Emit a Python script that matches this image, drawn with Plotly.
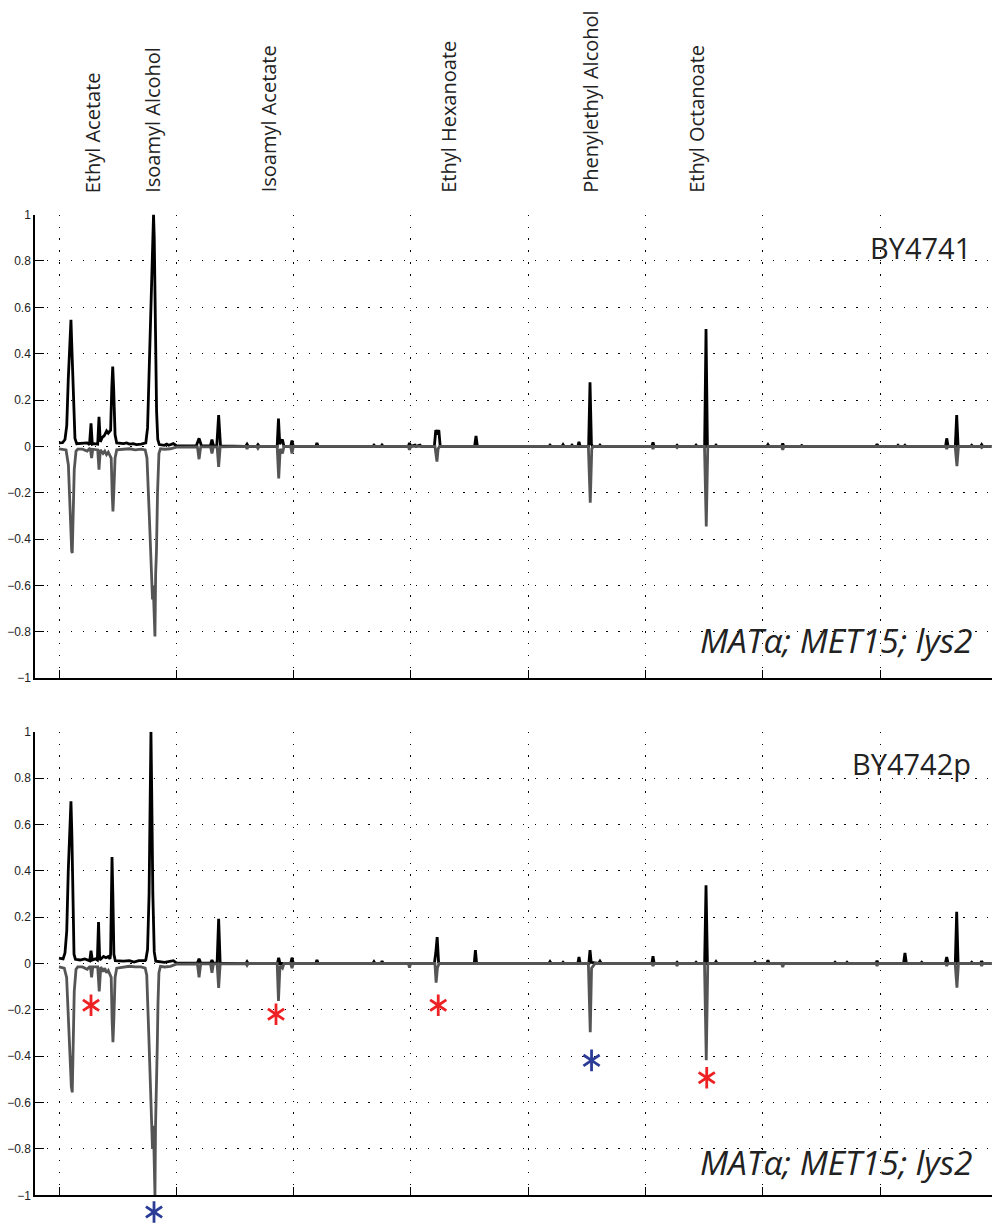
import plotly.graph_objects as go

# Retention time in grid-tick units (ticks at 0..8), normalised intensity
TOP_BLACK = [
    (0.000, 0.015), (0.030, 0.016), (0.051, 0.030), (0.066, 0.090), (0.079, 0.290),
    (0.097, 0.520), (0.102, 0.546), (0.108, 0.450), (0.122, 0.200), (0.136, 0.035),
    (0.151, 0.012), (0.200, 0.012), (0.240, 0.015), (0.260, 0.008), (0.273, 0.100),
    (0.284, 0.010), (0.300, 0.012), (0.330, 0.010), (0.341, 0.128), (0.352, 0.020),
    (0.370, 0.040), (0.384, 0.045), (0.395, 0.060), (0.406, 0.067), (0.420, 0.057),
    (0.435, 0.070), (0.440, 0.070), (0.450, 0.250), (0.458, 0.345), (0.466, 0.250),
    (0.478, 0.050), (0.492, 0.015), (0.550, 0.012), (0.577, 0.015), (0.600, 0.010),
    (0.632, 0.012), (0.660, 0.008), (0.700, 0.010), (0.725, 0.012), (0.740, 0.015),
    (0.755, 0.080), (0.770, 0.350), (0.790, 0.800), (0.800, 0.970), (0.806, 1.000),
    (0.812, 0.900), (0.822, 0.550), (0.832, 0.150), (0.842, 0.030), (0.855, 0.008),
    (0.900, 0.005), (0.918, 0.010), (0.935, 0.005), (0.975, 0.012), (1.000, 0.003),
    (1.170, 0.002), (1.194, 0.035), (1.215, 0.002), (1.290, 0.002), (1.304, 0.030),
    (1.318, 0.002), (1.345, 0.002), (1.361, 0.135), (1.377, 0.002), (1.590, 0.000),
    (1.603, 0.010), (1.615, 0.000), (1.685, 0.000), (1.696, 0.008), (1.708, 0.000),
    (1.860, 0.000), (1.871, 0.120), (1.882, 0.010), (1.905, 0.030), (1.918, 0.000),
    (1.975, 0.000), (1.986, 0.025), (1.998, 0.000), (2.190, 0.000), (2.199, 0.015),
    (2.210, 0.000), (2.675, 0.000), (2.685, 0.006), (2.695, 0.000), (2.745, 0.000),
    (2.754, 0.006), (2.765, 0.000), (2.978, 0.000), (2.988, 0.015), (2.998, 0.000),
    (3.035, 0.006), (3.045, 0.000), (3.078, 0.006), (3.088, 0.000), (3.200, 0.000),
    (3.212, 0.070), (3.225, 0.060), (3.238, 0.070), (3.250, 0.000), (3.543, 0.000),
    (3.555, 0.045), (3.567, 0.000), (4.176, 0.000), (4.186, 0.006), (4.196, 0.000),
    (4.287, 0.000), (4.297, 0.008), (4.307, 0.000), (4.363, 0.000), (4.373, 0.006),
    (4.383, 0.000), (4.423, 0.000), (4.433, 0.020), (4.443, 0.000), (4.515, 0.000),
    (4.527, 0.277), (4.539, 0.010), (4.550, 0.000), (4.602, 0.000), (4.612, 0.006),
    (4.622, 0.000), (5.054, 0.000), (5.064, 0.017), (5.074, 0.000), (5.259, 0.000),
    (5.269, 0.005), (5.279, 0.000), (5.421, 0.000), (5.431, 0.006), (5.441, 0.000),
    (5.504, 0.000), (5.516, 0.506), (5.528, 0.000), (5.591, 0.000), (5.601, 0.006),
    (5.611, 0.000), (6.034, 0.000), (6.044, 0.008), (6.054, 0.000), (6.160, 0.000),
    (6.170, 0.012), (6.180, 0.000), (6.322, 0.000), (6.332, 0.004), (6.342, 0.000),
    (6.964, 0.000), (6.974, 0.010), (6.984, 0.000), (7.143, 0.000), (7.153, 0.005),
    (7.163, 0.000), (7.202, 0.000), (7.212, 0.005), (7.222, 0.000), (7.558, 0.000),
    (7.568, 0.035), (7.580, 0.000), (7.641, 0.000), (7.653, 0.135), (7.665, 0.000),
    (7.771, 0.000), (7.781, 0.005), (7.791, 0.000), (7.856, 0.000), (7.866, 0.008),
    (7.876, 0.000), (7.950, 0.000),
]

TOP_GRAY = [
    (0.000, -0.010), (0.060, -0.015), (0.080, -0.080), (0.095, -0.300), (0.108, -0.450),
    (0.113, -0.460), (0.119, -0.350), (0.130, -0.100), (0.145, -0.020), (0.160, -0.012),
    (0.200, -0.012), (0.240, -0.020), (0.260, -0.010), (0.268, -0.012), (0.278, -0.050),
    (0.288, -0.012), (0.330, -0.015), (0.341, -0.100), (0.352, -0.015), (0.375, -0.030),
    (0.390, -0.020), (0.405, -0.035), (0.420, -0.025), (0.435, -0.040), (0.445, -0.050),
    (0.453, -0.200), (0.460, -0.280), (0.467, -0.200), (0.478, -0.050), (0.492, -0.015),
    (0.550, -0.012), (0.600, -0.010), (0.650, -0.015), (0.700, -0.012), (0.735, -0.015),
    (0.750, -0.050), (0.770, -0.300), (0.790, -0.560), (0.797, -0.660), (0.803, -0.600),
    (0.812, -0.750), (0.818, -0.820), (0.824, -0.550), (0.831, -0.450), (0.840, -0.200),
    (0.852, -0.030), (0.865, -0.010), (0.900, -0.012), (0.950, -0.010), (1.000, -0.003),
    (1.180, -0.002), (1.194, -0.055), (1.208, -0.002), (1.292, -0.002), (1.304, -0.030),
    (1.316, -0.002), (1.348, -0.002), (1.361, -0.088), (1.374, -0.002), (1.593, 0.000),
    (1.603, -0.010), (1.613, 0.000), (1.686, 0.000), (1.696, -0.008), (1.706, 0.000),
    (1.860, 0.000), (1.873, -0.138), (1.886, -0.010), (1.905, -0.030), (1.918, 0.000),
    (1.975, 0.000), (1.986, -0.030), (1.998, 0.000), (2.978, 0.000), (2.988, -0.015),
    (2.998, 0.000), (3.205, 0.000), (3.214, -0.030), (3.222, -0.065), (3.232, -0.010),
    (3.245, 0.000), (4.513, 0.000), (4.529, -0.243), (4.542, -0.010), (4.556, 0.000),
    (5.054, 0.000), (5.064, -0.010), (5.074, 0.000), (5.259, 0.000), (5.269, -0.005),
    (5.279, 0.000), (5.503, 0.000), (5.518, -0.345), (5.531, 0.000), (6.160, 0.000),
    (6.170, -0.015), (6.180, 0.000), (7.558, 0.000), (7.568, -0.010), (7.578, 0.000),
    (7.640, 0.000), (7.655, -0.085), (7.668, 0.000), (7.856, 0.000), (7.866, -0.005),
    (7.876, 0.000), (7.950, 0.000),
]

BOT_BLACK = [
    (0.000, 0.023), (0.035, 0.020), (0.051, 0.045), (0.066, 0.140), (0.079, 0.400),
    (0.098, 0.680), (0.102, 0.700), (0.110, 0.550), (0.117, 0.300), (0.128, 0.040),
    (0.140, 0.018), (0.180, 0.015), (0.220, 0.020), (0.250, 0.012), (0.262, 0.012),
    (0.273, 0.055), (0.284, 0.015), (0.310, 0.020), (0.327, 0.015), (0.337, 0.179),
    (0.347, 0.015), (0.380, 0.030), (0.400, 0.025), (0.420, 0.030), (0.435, 0.020),
    (0.440, 0.040), (0.445, 0.300), (0.452, 0.459), (0.459, 0.300), (0.468, 0.040),
    (0.480, 0.012), (0.550, 0.010), (0.600, 0.012), (0.640, 0.006), (0.680, 0.012),
    (0.720, 0.010), (0.735, 0.012), (0.740, 0.015), (0.755, 0.060), (0.768, 0.300),
    (0.778, 0.750), (0.784, 1.000), (0.790, 0.750), (0.800, 0.300), (0.812, 0.050),
    (0.825, 0.010), (0.900, 0.005), (0.950, 0.010), (0.975, 0.012), (1.000, 0.003),
    (1.180, 0.002), (1.194, 0.020), (1.208, 0.002), (1.292, 0.002), (1.304, 0.015),
    (1.316, 0.002), (1.348, 0.002), (1.361, 0.193), (1.374, 0.002), (1.593, 0.000),
    (1.603, 0.008), (1.613, 0.000), (1.862, 0.000), (1.873, 0.025), (1.884, 0.000),
    (1.975, 0.000), (1.986, 0.025), (1.998, 0.000), (2.190, 0.000), (2.199, 0.015),
    (2.210, 0.000), (2.675, 0.000), (2.685, 0.008), (2.695, 0.000), (2.745, 0.000),
    (2.754, 0.010), (2.765, 0.000), (3.200, 0.000), (3.212, 0.045), (3.224, 0.114),
    (3.236, 0.005), (3.248, 0.000), (3.540, 0.000), (3.550, 0.058), (3.560, 0.000),
    (4.176, 0.000), (4.186, 0.008), (4.196, 0.000), (4.287, 0.000), (4.297, 0.005),
    (4.307, 0.000), (4.423, 0.000), (4.433, 0.028), (4.443, 0.000), (4.517, 0.000),
    (4.527, 0.058), (4.537, 0.005), (4.600, 0.000), (4.612, 0.010), (4.624, 0.000),
    (5.054, 0.000), (5.064, 0.031), (5.074, 0.000), (5.259, 0.000), (5.269, 0.005),
    (5.279, 0.000), (5.421, 0.000), (5.431, 0.005), (5.441, 0.000), (5.504, 0.000),
    (5.516, 0.337), (5.528, 0.000), (5.591, 0.000), (5.601, 0.008), (5.611, 0.000),
    (5.924, 0.000), (5.934, 0.005), (5.944, 0.000), (6.034, 0.000), (6.044, 0.014),
    (6.054, 0.000), (6.606, 0.000), (6.616, 0.005), (6.626, 0.000), (6.708, 0.000),
    (6.718, 0.005), (6.728, 0.000), (6.964, 0.000), (6.974, 0.012), (6.984, 0.000),
    (7.200, 0.000), (7.212, 0.045), (7.224, 0.000), (7.345, 0.000), (7.355, 0.005),
    (7.365, 0.000), (7.556, 0.000), (7.568, 0.028), (7.580, 0.000), (7.641, 0.000),
    (7.653, 0.223), (7.665, 0.000), (7.771, 0.000), (7.781, 0.005), (7.791, 0.000),
    (7.856, 0.000), (7.866, 0.010), (7.876, 0.000), (7.950, 0.000),
]

BOT_GRAY = [
    (0.000, -0.015), (0.045, -0.020), (0.065, -0.060), (0.085, -0.300), (0.105, -0.530),
    (0.113, -0.556), (0.119, -0.400), (0.130, -0.120), (0.145, -0.025), (0.160, -0.015),
    (0.200, -0.015), (0.240, -0.025), (0.260, -0.015), (0.268, -0.015), (0.278, -0.060),
    (0.288, -0.015), (0.330, -0.015), (0.343, -0.120), (0.356, -0.015), (0.375, -0.035),
    (0.390, -0.020), (0.405, -0.040), (0.420, -0.030), (0.435, -0.045), (0.445, -0.060),
    (0.453, -0.250), (0.460, -0.340), (0.467, -0.250), (0.478, -0.060), (0.492, -0.020),
    (0.550, -0.015), (0.600, -0.012), (0.650, -0.015), (0.700, -0.015), (0.735, -0.020),
    (0.748, -0.050), (0.765, -0.300), (0.785, -0.680), (0.797, -0.800), (0.805, -0.700),
    (0.812, -0.880), (0.818, -1.000), (0.823, -0.700), (0.831, -0.546), (0.838, -0.350),
    (0.844, -0.170), (0.852, -0.040), (0.865, -0.012), (0.900, -0.015), (0.950, -0.012),
    (1.000, -0.003), (1.180, -0.002), (1.194, -0.060), (1.208, -0.002), (1.292, -0.002),
    (1.304, -0.040), (1.316, -0.002), (1.348, -0.002), (1.361, -0.105), (1.374, -0.002),
    (1.593, 0.000), (1.603, -0.008), (1.613, 0.000), (1.860, 0.000), (1.871, -0.162),
    (1.884, -0.010), (1.905, -0.020), (1.918, 0.000), (1.975, 0.000), (1.986, -0.020),
    (1.998, 0.000), (2.978, 0.000), (2.988, -0.018), (2.998, 0.000), (3.205, 0.000),
    (3.215, -0.083), (3.226, -0.020), (3.240, 0.000), (4.513, 0.000), (4.529, -0.296),
    (4.540, -0.020), (4.555, -0.010), (4.570, 0.000), (5.054, 0.000), (5.064, -0.010),
    (5.074, 0.000), (5.259, 0.000), (5.269, -0.010), (5.279, 0.000), (5.503, 0.000),
    (5.518, -0.417), (5.531, 0.000), (6.160, 0.000), (6.170, -0.015), (6.180, 0.000),
    (6.964, 0.000), (6.974, -0.010), (6.984, 0.000), (7.558, 0.000), (7.568, -0.010),
    (7.578, 0.000), (7.640, 0.000), (7.655, -0.104), (7.668, 0.000), (7.856, 0.000),
    (7.866, -0.010), (7.876, 0.000), (7.950, 0.000),
]

COMPOUNDS = ["Ethyl Acetate", "Isoamyl Alcohol", "Isoamyl Acetate",
             "Ethyl Hexanoate", "Phenylethyl Alcohol", "Ethyl Octanoate"]
COMPOUND_RT = [0.281, 0.801, 1.782, 3.325, 4.535, 5.439]

RED_STAR_RT = [0.273, 1.850, 3.233, 5.522]
RED_STAR_Y = [-0.180, -0.219, -0.180, -0.493]
BLUE_STAR_RT = [4.540, 0.810]
BLUE_STAR_Y = [-0.418, -1.072]

Y_TICKS = [1, 0.8, 0.6, 0.4, 0.2, 0, -0.2, -0.4, -0.6, -0.8, -1]
Y_TICK_TEXT = ["1", "0.8", "0.6", "0.4", "0.2", "0",
               "\u22120.2", "\u22120.4", "\u22120.6", "\u22120.8", "\u22121"]
X_TICKS = [0, 1, 2, 3, 4, 5, 6, 7, 8]

PANEL_NAMES = ["BY4741", "BY4742p"]
GENOTYPE = "MAT\u03b1; MET15; lys2"

W, H = 992, 1230
fig = go.Figure()

def xs(p):
    return [a for a, b in p]

def ys(p):
    return [b for a, b in p]

BLACK = "#000000"
GRAY = "#555555"
for pts, col, xa, ya in [(TOP_BLACK, BLACK, "x", "y"), (TOP_GRAY, GRAY, "x", "y"),
                         (BOT_BLACK, BLACK, "x2", "y2"), (BOT_GRAY, GRAY, "x2", "y2")]:
    fig.add_trace(go.Scatter(x=xs(pts), y=ys(pts), mode="lines",
                             line=dict(color=col, width=2.8),
                             xaxis=xa, yaxis=ya, showlegend=False, hoverinfo="skip"))

# stars live on an invisible subplot that extends below the bottom panel
for sym in ["y-up-open", "y-down-open"]:
    for sx, sy, col in [(RED_STAR_RT, RED_STAR_Y, "#ed2224"), (BLUE_STAR_RT, BLUE_STAR_Y, "#2b3c97")]:
        fig.add_trace(go.Scatter(x=sx, y=sy, mode="markers",
                                 marker=dict(symbol=sym, size=13.5, color=col,
                                             line=dict(color=col, width=2.8)),
                                 xaxis="x3", yaxis="y3", cliponaxis=False,
                                 showlegend=False, hoverinfo="skip"))

XR = [-0.2046, 7.954]
top_dom = [1 - 679 / H, 1 - 210 / H]
bot_dom = [1 - 1202 / H, 1 - 733 / H]
px_per_unit = (1202 - 733) / 2.0
star_dom = [0, bot_dom[1]]
star_low = -1 - (H - 1202) / px_per_unit

grid = dict(showgrid=True, gridcolor="#000000", gridwidth=1.4, griddash="1.4px,10.5px",
            zeroline=False, showline=True, linecolor="#000000", linewidth=1.5,
            ticks="inside", ticklen=9, tickwidth=1.2, tickcolor="#000000")

xax = dict(range=XR, tickvals=X_TICKS, showticklabels=False, **grid)
yax = dict(range=[-1, 1], tickvals=Y_TICKS, ticktext=Y_TICK_TEXT,
           tickfont=dict(family="Liberation Sans, Arial, sans-serif", size=12, color="#222222"),
           **grid)

fig.update_layout(
    width=W, height=H,
    margin=dict(l=35, r=0, t=0, b=0),
    paper_bgcolor="white", plot_bgcolor="rgba(0,0,0,0)",
    xaxis=dict(domain=[0, 1], anchor="y", **xax),
    yaxis=dict(domain=top_dom, anchor="x", **yax),
    xaxis2=dict(domain=[0, 1], anchor="y2", **xax),
    yaxis2=dict(domain=bot_dom, anchor="x2", **yax),
    xaxis3=dict(domain=[0, 1], anchor="y3", range=XR, visible=False,
                showgrid=False, zeroline=False),
    yaxis3=dict(domain=star_dom, anchor="x3", range=[star_low, 1], visible=False,
                showgrid=False, zeroline=False),
)

label_font = dict(family="Open Sans, sans-serif", size=20, color="#222222")
for name, rt in zip(COMPOUNDS, COMPOUND_RT):
    fig.add_annotation(x=rt, xref="x", y=1 - 190 / H, yref="paper", text=name,
                       textangle=-90, showarrow=False, xanchor="center", yanchor="bottom",
                       font=label_font)

name_font = dict(family="Open Sans, sans-serif", size=29, color="#222222")
geno_font = dict(family="Open Sans, sans-serif", size=33.5, color="#222222")
for name, ypx, gpx in [(PANEL_NAMES[0], 243, 640), (PANEL_NAMES[1], 765, 1168)]:
    fig.add_annotation(x=972 / W, xref="paper", y=1 - ypx / H, yref="paper", text=name,
                       showarrow=False, xanchor="right", yanchor="middle", font=name_font)
    fig.add_annotation(x=974 / W, xref="paper", y=1 - gpx / H, yref="paper",
                       text="<i>" + GENOTYPE + "</i>",
                       showarrow=False, xanchor="right", yanchor="middle", font=geno_font)

fig.write_html("out.html")
